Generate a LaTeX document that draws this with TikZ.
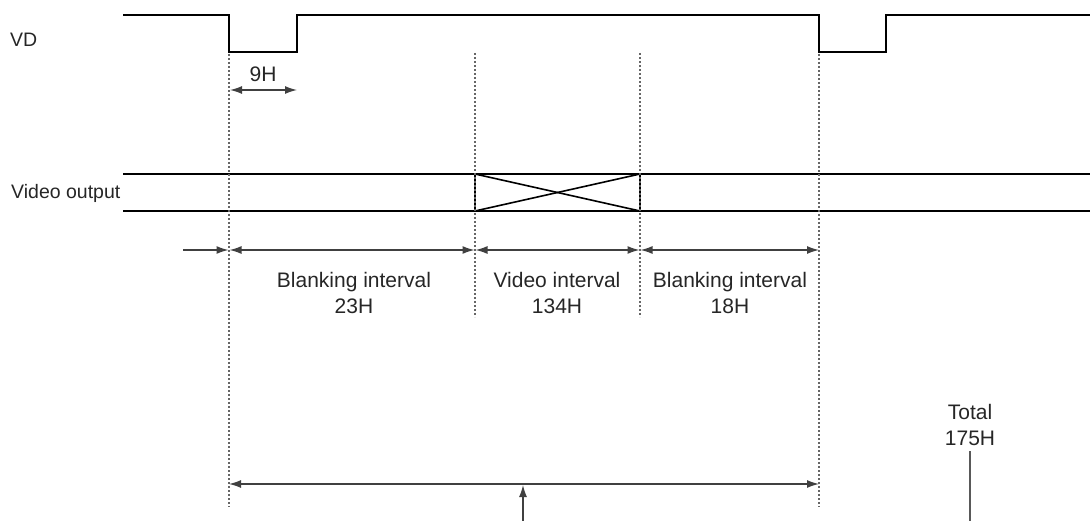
\documentclass[tikz,border=0pt]{standalone}
\usepackage{fontspec}
\setmainfont{Liberation Sans}
\usetikzlibrary{arrows.meta}
\begin{document}
\begin{tikzpicture}[x=1pt,y=-1pt,
  wave/.style={line width=2.8pt,line join=miter,draw=black},
  boxline/.style={line width=1.6pt,draw=black},
  guide/.style={line width=1.1pt,draw=black!60,dash pattern=on 2pt off 2pt},
  tip/.tip={Latex[length=12pt,width=8pt]},
  dimboth/.style={line width=1.3pt,draw=black!75,tip-tip},
  dimone/.style={line width=1.3pt,draw=black!75,-tip},
  plain/.style={line width=1.3pt,draw=black!65},
  lbl/.style={font=\fontsize{21}{26}\selectfont,text=black!85,align=center,inner sep=0pt},
  side/.style={font=\fontsize{19.5}{24}\selectfont,text=black!85,inner sep=0pt}]
\useasboundingbox (0,0) rectangle (1090,521);

% VD waveform
\coordinate (v0) at (123,15);
\coordinate (v1) at (229,15);
\coordinate (v2) at (229,52);
\coordinate (v3) at (297,52);
\coordinate (v4) at (297,15);
\coordinate (v5) at (819,15);
\coordinate (v6) at (819,52);
\coordinate (v7) at (886,52);
\coordinate (v8) at (886,15);
\coordinate (v9) at (1090,15);
\draw[wave] (v0) -- (v1) -- (v2) -- (v3) -- (v4) -- (v5) -- (v6) -- (v7) -- (v8) -- (v9);

% Video output lines
\coordinate (o1l) at (123,174);
\coordinate (o1r) at (1090,174);
\coordinate (o2l) at (123,211);
\coordinate (o2r) at (1090,211);
\draw[wave] (o1l) -- (o1r);
\draw[wave] (o2l) -- (o2r);

% data box with cross
\coordinate (bxa) at (475,174);
\coordinate (bxb) at (640,174);
\coordinate (bxc) at (640,211);
\coordinate (bxd) at (475,211);
\draw[boxline] (bxa) -- (bxd);
\draw[boxline] (bxb) -- (bxc);
\draw[boxline] (bxa) -- (bxc);
\draw[boxline] (bxd) -- (bxb);

% guide lines
\coordinate (g1t) at (229,54);
\coordinate (g1b) at (229,507);
\coordinate (g2t) at (475,53);
\coordinate (g2b) at (475,317);
\coordinate (g3t) at (640,53);
\coordinate (g3b) at (640,317);
\coordinate (g4t) at (819,54);
\coordinate (g4b) at (819,507);
\draw[guide] (g1t) -- (g1b);
\draw[guide] (g2t) -- (g2b);
\draw[guide] (g3t) -- (g3b);
\draw[guide] (g4t) -- (g4b);

% 9H dimension
\coordinate (h9a) at (230,90);
\coordinate (h9b) at (297,90);
\draw[dimboth] (h9a) -- (h9b);

% interval dimensions
\coordinate (d0) at (183,250);
\coordinate (d1) at (228.5,250);
\coordinate (d1r) at (229.5,250);
\coordinate (d2) at (474.5,250);
\coordinate (d2r) at (475.5,250);
\coordinate (d3) at (639.5,250);
\coordinate (d3r) at (640.5,250);
\coordinate (d4) at (819,250);
\draw[dimone] (d0) -- (d1);
\draw[dimboth] (d1r) -- (d2);
\draw[dimboth] (d2r) -- (d3);
\draw[dimboth] (d3r) -- (d4);

% total dimension
\coordinate (ta) at (229,484);
\coordinate (tb) at (819,484);
\draw[dimboth] (ta) -- (tb);
\coordinate (ua) at (523,521);
\coordinate (ub) at (523,485);
\draw[dimone] (ua) -- (ub);
\coordinate (la) at (970,451);
\coordinate (lb) at (970,521);
\draw[plain] (la) -- (lb);

% labels
\node[side,anchor=base west] (vd) at (10,47) {VD};
\node[side,anchor=base west] (vo) at (11,199) {Video output};
\node[lbl,anchor=base] (n9h) at (263,82) {9H};
\node[lbl,anchor=north] (b1) at (354,272) {Blanking interval\\23H};
\node[lbl,anchor=north] (vi) at (557,272) {Video interval\\134H};
\node[lbl,anchor=north] (b2) at (730,272) {Blanking interval\\18H};
\node[lbl,anchor=north] (tot) at (970,404) {Total\\175H};
\end{tikzpicture}
\end{document}
